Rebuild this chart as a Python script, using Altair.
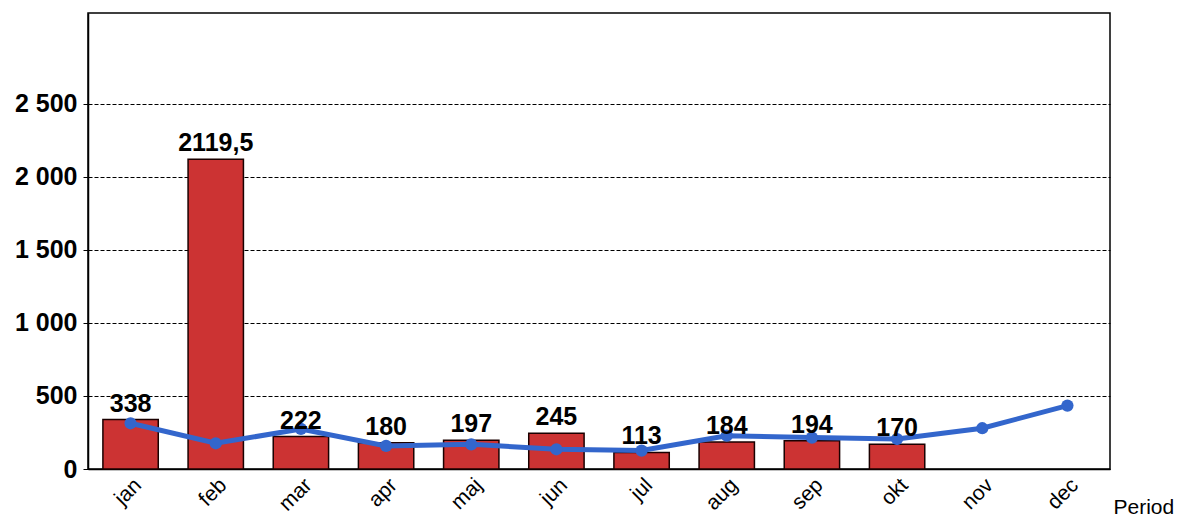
import altair as alt
import pandas as pd

months = ["jan", "feb", "mar", "apr", "maj", "jun", "jul", "aug", "sep", "okt", "nov", "dec"]
bar_values = [338, 2119.5, 222, 180, 197, 245, 113, 184, 194, 170, None, None]
bar_labels = ["338", "2119,5", "222", "180", "197", "245", "113", "184", "194", "170", "", ""]
line_values = [313, 176, 274, 158, 169, 135, 126, 228, 215, 205, 279, 434]
y_ticks = [0, 500, 1000, 1500, 2000, 2500]

df = pd.DataFrame({"month": months, "bar": bar_values, "label": bar_labels, "line": line_values})

FONT = "Liberation Sans"

x = alt.X("month:N", sort=months, scale=alt.Scale(paddingInner=0.35, paddingOuter=0.175),
          axis=alt.Axis(title="Period", labelAngle=-45, labelFontSize=21, labelFont=FONT,
                        labelColor="black", ticks=False, domainColor="black", domainWidth=1.5,
                        titleFont=FONT, titleFontSize=21, titleFontWeight="normal",
                        titleColor="black", titleX=1025, titleY=38, titleAlign="left",
                        titleBaseline="middle", titleAnchor="start", labelPadding=5))

yscale = alt.Scale(domain=[0, 3120], nice=False)

bars = alt.Chart(df).mark_bar(color="#CC3333", stroke="#1a0000", strokeWidth=1.5).encode(
    x=x,
    y=alt.Y("bar:Q", scale=yscale,
            axis=alt.Axis(title=None, values=y_ticks, labelFont=FONT, labelFontSize=25,
                          labelFontWeight="bold", labelColor="black",
                          labelExpr="replace(format(datum.value, ','), ',', ' ')",
                          grid=True, gridColor="black", gridDash=[4, 2], gridWidth=1,
                          tickColor="black", tickSize=5, domainColor="black", domainWidth=1.5,
                          labelPadding=6)),
)

texts = alt.Chart(df).mark_text(font=FONT, fontSize=25, fontWeight="bold", color="black",
                                baseline="alphabetic", dy=-8).encode(
    x=alt.X("month:N", sort=months),
    y=alt.Y("bar:Q", scale=yscale),
    text="label:N",
)

line = alt.Chart(df).mark_line(color="#3366CC", strokeWidth=5,
                               point=alt.OverlayMarkDef(color="#3366CC", size=150, filled=True, opacity=1)).encode(
    x=alt.X("month:N", sort=months),
    y=alt.Y("line:Q", scale=yscale),
)

chart = alt.layer(bars, line, texts).properties(
    width=1022, height=456,
    padding={"left": 80, "top": 5, "right": 65, "bottom": 49},
    autosize=alt.AutoSizeParams(type="none"),
    background="white",
).configure_view(stroke="black", strokeWidth=1.5)

chart.save("out.html", embed_options={"renderer": "svg", "actions": False})
